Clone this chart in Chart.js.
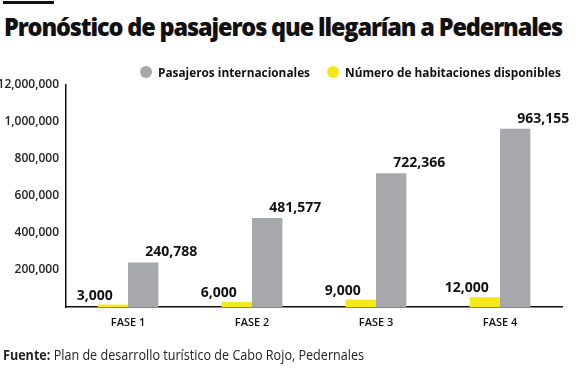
<!DOCTYPE html>
<html>
<head>
<meta charset="utf-8">
<script src="https://cdn.jsdelivr.net/npm/chart.js"></script>
<style>
  html, body { margin: 0; padding: 0; background: #fff; }
  #wrap { position: relative; width: 576px; height: 368px; overflow: hidden; }
  #rule { position: absolute; left: 3px; top: 1px; width: 51px; height: 3px; background: #111; }
  #title {
    position: absolute; left: 4px; top: 9px; white-space: nowrap;
    font-family: "Open Sans", sans-serif; font-weight: 800; font-size: 25px;
    letter-spacing: -1.2px; color: #111; transform-origin: left top;
  }
  #source {
    position: absolute; left: 3px; top: 345px; white-space: nowrap;
    font-family: "Open Sans", sans-serif; font-size: 14px; color: #222;
    transform-origin: left top;
  }
  #source b { font-weight: 700; }
  canvas { position: absolute; left: 0; top: 0; }
</style>
</head>
<body>
<div id="wrap">
  <div id="rule"></div>
  <div id="title">Pronóstico de pasajeros que llegarían a Pedernales</div>
  <canvas id="chart" width="576" height="368"></canvas>
  <div id="source"><b>Fuente:</b> Plan de desarrollo turístico de Cabo Rojo, Pedernales</div>
</div>
<script>
// Data
const phases = ['FASE 1', 'FASE 2', 'FASE 3', 'FASE 4'];
const pasajeros = [240788, 481577, 722366, 963155];
const habitaciones = [3000, 6000, 9000, 12000];
const tickValues = [200000, 400000, 600000, 800000, 1000000, 1200000];
const tickLabels = ['200,000', '400,000', '600,000', '800,000', '1,000,000', '12,000,000'];

const GRAY = '#a7a8ab';
const YELLOW = '#f4e81a';

// Fit title and source line to their widths in the reference
function fitWidth(el, w) {
  const cur = el.getBoundingClientRect().width;
  el.style.transform = `scaleX(${w / cur})`;
}
fitWidth(document.getElementById('title'), 558);
fitWidth(document.getElementById('source'), 361);

function fmt(n) {
  return n.toLocaleString('en-US');
}

// Legend drawn by hand, colours and labels come from the datasets
// (gray series first, like the reference)
const legendPlugin = {
  id: 'customLegend',
  afterDraw(chart) {
    const ctx = chart.ctx;
    const order = [1, 0];
    const spots = [146, 333];
    const widths = [152, 216];
    ctx.save();
    ctx.font = 'bold 13px "Open Sans", sans-serif';
    ctx.textBaseline = 'middle';
    order.forEach((di, k) => {
      const d = chart.data.datasets[di];
      const x = spots[k];
      ctx.fillStyle = d.backgroundColor;
      ctx.beginPath();
      ctx.arc(x, 72, 6, 0, Math.PI * 2);
      ctx.fill();
      ctx.fillStyle = '#111';
      ctx.fillText(d.label, x + 12, 73, widths[k]);
    });
    ctx.restore();
  }
};

// Value labels above each bar
const valuePlugin = {
  id: 'valueLabels',
  afterDatasetsDraw(chart) {
    const ctx = chart.ctx;
    ctx.save();
    ctx.font = 'bold 14px "Open Sans", sans-serif';
    ctx.fillStyle = '#111';
    ctx.textAlign = 'center';
    ctx.textBaseline = 'middle';
    chart.data.datasets.forEach((d, i) => {
      const meta = chart.getDatasetMeta(i);
      meta.data.forEach((bar, j) => {
        const dx = i === 0 ? -18 : 28;
        const dy = i === 0 ? -9 : -10;
        ctx.fillText(fmt(d.data[j]), bar.x + dx, bar.y + dy);
      });
    });
    ctx.restore();
  }
};

new Chart(document.getElementById('chart'), {
  type: 'bar',
  data: {
    labels: phases,
    datasets: [
      {
        label: 'Número de habitaciones disponibles',
        data: habitaciones,
        backgroundColor: YELLOW,
        yAxisID: 'y2',
        categoryPercentage: 0.49,
        barPercentage: 1.0
      },
      {
        label: 'Pasajeros internacionales',
        data: pasajeros,
        backgroundColor: GRAY,
        yAxisID: 'y',
        categoryPercentage: 0.49,
        barPercentage: 1.0
      }
    ]
  },
  options: {
    responsive: false,
    animation: false,
    layout: { padding: { top: 85, right: 14, bottom: 35, left: 0 } },
    plugins: {
      legend: { display: false },
      tooltip: { enabled: false }
    },
    scales: {
      x: {
        grid: { display: false, drawTicks: false },
        border: { display: true, color: '#111', width: 1.5 },
        ticks: {
          padding: 9,
          color: '#111',
          font: { family: '"Open Sans", sans-serif', size: 11, weight: '600' }
        },
        afterFit(scale) { scale.height = 26; }
      },
      y: {
        min: 0,
        max: 1200000,
        grid: { display: false, drawTicks: false },
        border: { display: true, color: '#111', width: 1.5 },
        afterBuildTicks(scale) {
          scale.ticks = tickValues.map(v => ({ value: v }));
        },
        ticks: {
          padding: 7,
          color: '#222',
          font: { family: '"Open Sans", sans-serif', size: 12, weight: '600' },
          callback(value) {
            const k = tickValues.indexOf(value);
            return k >= 0 ? tickLabels[k] : '';
          }
        },
        afterFit(scale) { scale.width = 66; }
      },
      // rooms use their own hidden scale so their small bars stay visible
      y2: {
        display: false,
        min: 0,
        max: 270000
      }
    }
  },
  plugins: [legendPlugin, valuePlugin]
});
</script>
</body>
</html>
